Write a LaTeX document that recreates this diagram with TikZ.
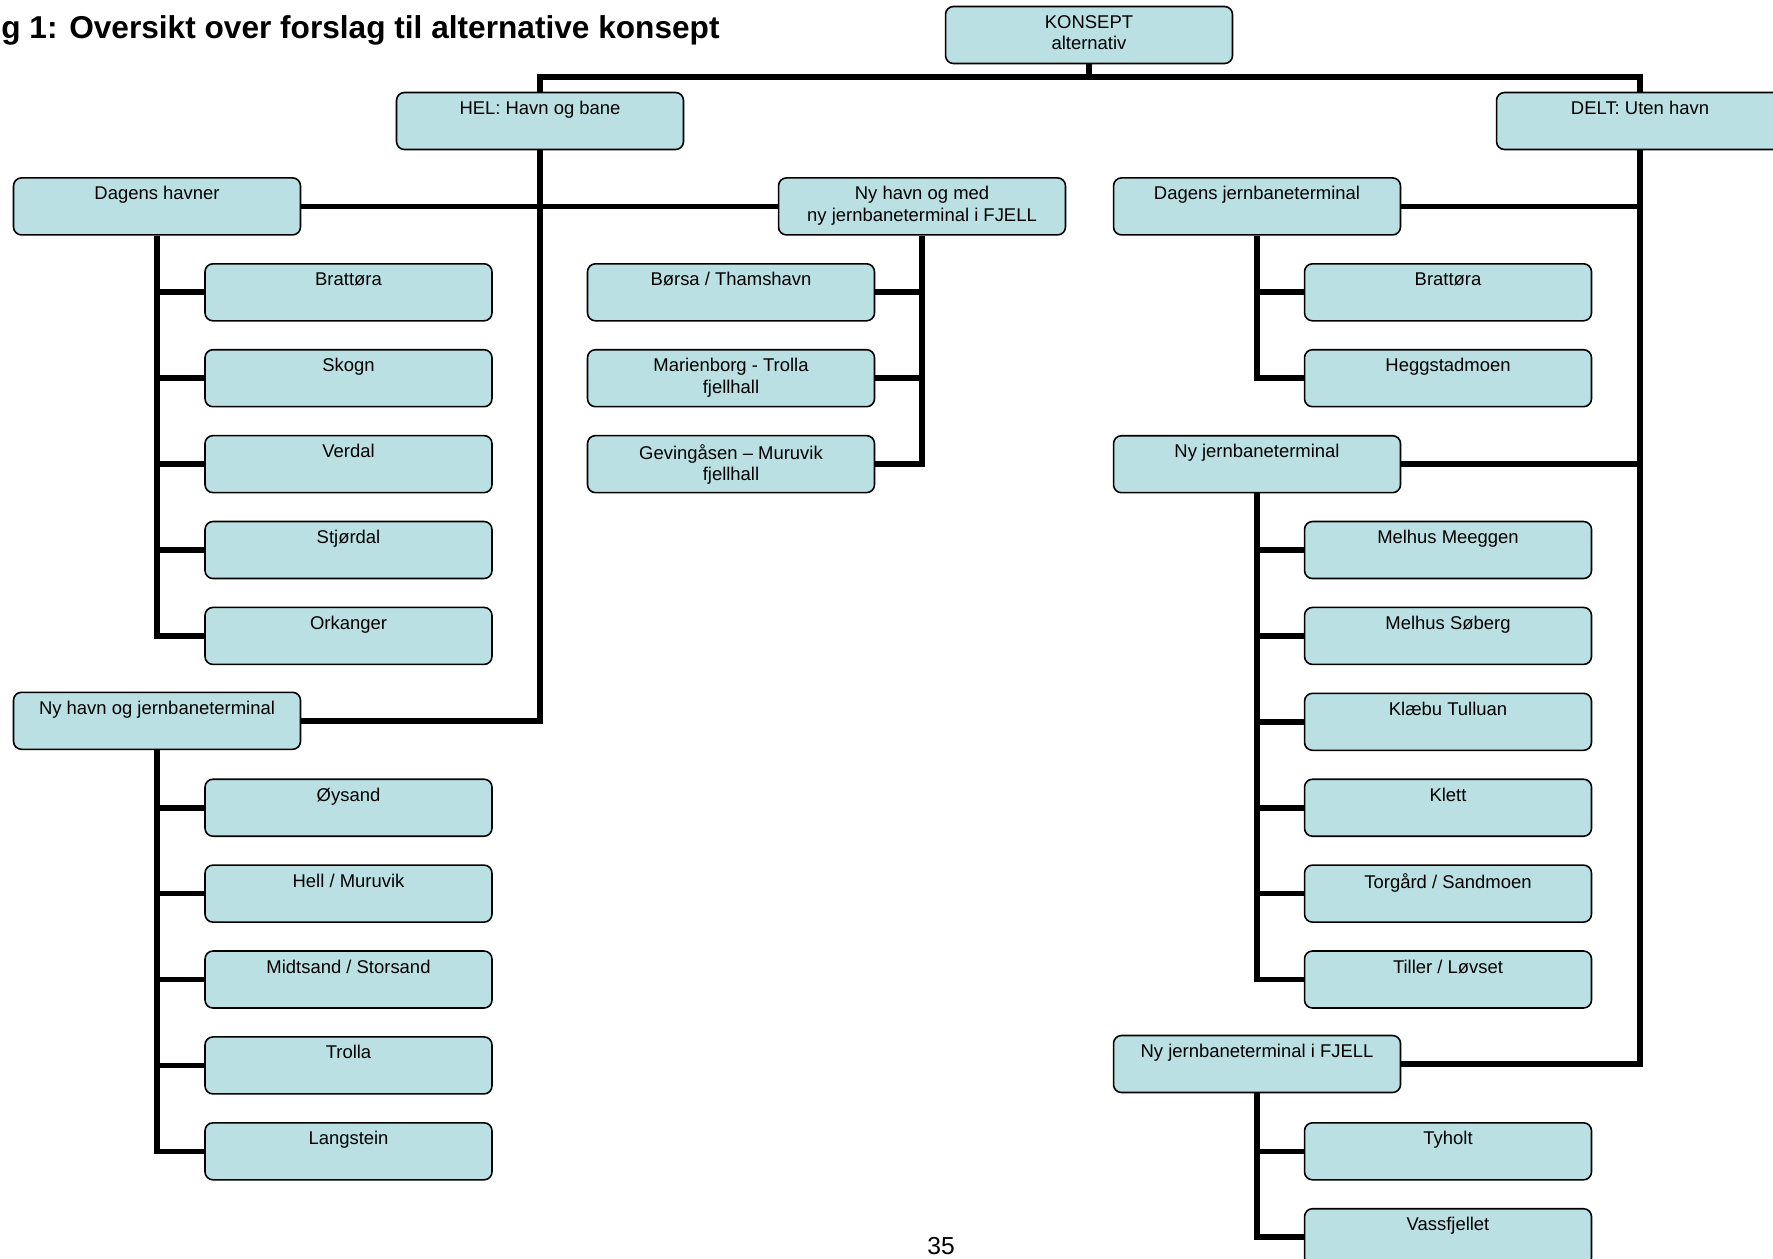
\documentclass[tikz,border=0pt]{standalone}
\usepackage{fontspec}
\setmainfont{Liberation Sans}
\usepackage{xcolor}
\usepackage{tikz}
\definecolor{boxblue}{RGB}{186,224,227}

\begin{document}
\begin{tikzpicture}[x=0.02cm, y=-0.02cm,
            box/.style={draw, line width=0.9pt, rounded corners=4.5pt, fill=boxblue,
                minimum width=5.74cm, minimum height=1.14cm, inner sep=0pt},
            boxtext/.style={anchor=north, align=center, inner xsep=0pt, inner ysep=5.2pt,
                font=\fontsize{10.5}{12.2}\selectfont},
            link/.style={line width=3.2pt, line join=miter}]
            \useasboundingbox (0,0) rectangle (1773,1258);
            \clip (0,0) rectangle (1773,1258);

            \node [anchor=base west, inner sep=0pt, font=\bfseries\fontsize{18}{21}\selectfont] (title) at (1,38) {g 1: Oversikt over forslag til alternative konsept};

            \node [box, label={[boxtext]north:KONSEPT\\alternativ}] (konsept) at (1089,35) {};
            \node [box, label={[boxtext]north:HEL: Havn og bane}] (hel) at (540,121) {};
            \node [box, label={[boxtext]north:DELT: Uten havn}] (delt) at (1640,121) {};

            \coordinate (bus) at (0,77);
            \draw [link] (hel.north) -- (hel.north |- bus) -| (delt.north);
            \draw [link] (konsept.south) -- (konsept.south |- bus);

            % HEL: havn og bane
            \node [box, label={[boxtext]north:Dagens havner}] (dagHavn) at (157,206.4) {};
            \node [box, label={[boxtext]north:Ny havn og med\\ny jernbaneterminal i FJELL}] (nyHavnMed) at (922,206.4) {};
            \node [box, label={[boxtext]north:Ny havn og jernbaneterminal}] (nyHavnJb) at (157,720.8) {};
            \draw [link] (dagHavn.east) -- (nyHavnMed.west);
            \draw [link] (hel.south) |- (nyHavnJb.east);

            \foreach \name/\row/\txt in {hA/1/Brattøra, hB/2/Skogn, hC/3/Verdal, hD/4/Stjørdal, hE/5/Orkanger} {
                \node [box, label={[boxtext]north:\txt}] (\name) at (348.5,{206.4+85.9*\row}) {};
                \draw [link] (dagHavn.south) |- (\name.west);
            }
            \foreach \name/\row/\txt in {nA/7/Øysand, nB/8/{Hell / Muruvik}, nC/9/{Midtsand / Storsand}, nD/10/Trolla, nE/11/Langstein} {
                \node [box, label={[boxtext]north:\txt}] (\name) at (348.5,{206.4+85.9*\row}) {};
                \draw [link] (nyHavnJb.south) |- (\name.west);
            }
            \foreach \name/\row/\txt in {fA/1/{Børsa / Thamshavn}, fB/2/{Marienborg - Trolla\\fjellhall}, fC/3/{Gevingåsen – Muruvik\\fjellhall}} {
                \node [box, label={[boxtext]north:\txt}] (\name) at (731,{206.4+85.9*\row}) {};
                \draw [link] (nyHavnMed.south) |- (\name.east);
            }

            % DELT: uten havn
            \node [box, label={[boxtext]north:Dagens jernbaneterminal}] (dagJb) at (1257,206.4) {};
            \node [box, label={[boxtext]north:Ny jernbaneterminal}] (nyJb) at (1257,464.2) {};
            \node [box, label={[boxtext]north:Ny jernbaneterminal i FJELL}] (nyJbFjell) at (1257,1064) {};
            \draw [link] (delt.south) |- (dagJb.east);
            \draw [link] (delt.south) |- (nyJb.east);
            \draw [link] (delt.south) |- (nyJbFjell.east);

            \foreach \name/\row/\txt in {dA/1/Brattøra, dB/2/Heggstadmoen} {
                \node [box, label={[boxtext]north:\txt}] (\name) at (1448,{206.4+85.9*\row}) {};
                \draw [link] (dagJb.south) |- (\name.west);
            }
            \foreach \name/\row/\txt in {jA/4/Melhus Meeggen, jB/5/Melhus Søberg, jC/6/Klæbu Tulluan, jD/7/Klett, jE/8/{Torgård / Sandmoen}, jF/9/{Tiller / Løvset}} {
                \node [box, label={[boxtext]north:\txt}] (\name) at (1448,{206.4+85.9*\row}) {};
                \draw [link] (nyJb.south) |- (\name.west);
            }
            \foreach \name/\row/\txt in {gA/11/Tyholt, gB/12/Vassfjellet} {
                \node [box, label={[boxtext]north:\txt}] (\name) at (1448,{206.4+85.9*\row}) {};
                \draw [link] (nyJbFjell.south) |- (\name.west);
            }

            \node [font=\fontsize{14}{16}\selectfont] (pageNo) at (941,1246) {35};

        \end{tikzpicture}
\end{document}
